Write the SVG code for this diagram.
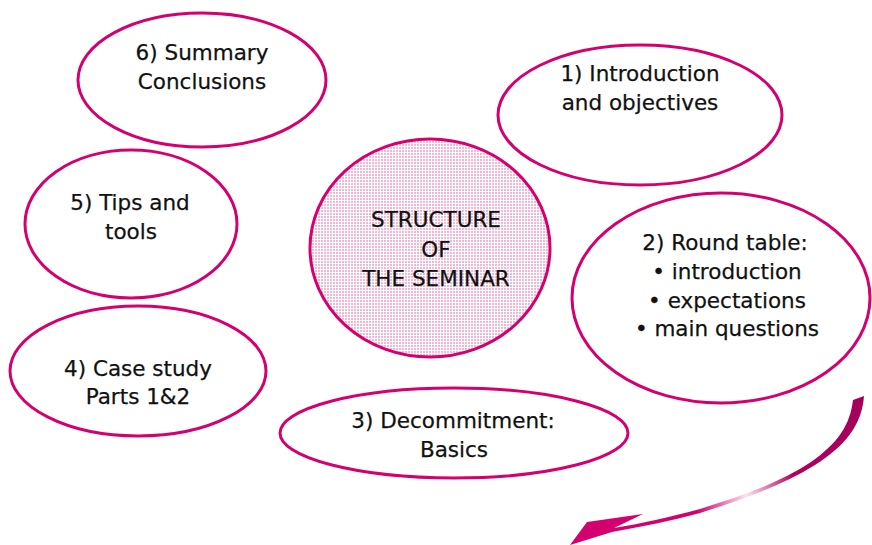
<svg xmlns="http://www.w3.org/2000/svg" width="872" height="545" viewBox="0 0 872 545">
<defs>
<style>
.node ellipse{fill:#fff;stroke:#d4006f;stroke-width:3}
.node text{font-family:"DejaVu Sans","Noto Sans",sans-serif;font-size:21.5px;fill:#111;stroke:#111;stroke-width:0.25;text-anchor:middle}
#center ellipse{fill:url(#dots)}
</style>
<pattern id="dots" width="3" height="3" patternUnits="userSpaceOnUse">
<rect width="3" height="3" fill="#fff"/>
<rect width="2" height="2" fill="#f5b5d5"/>
</pattern>
<linearGradient id="arrowGrad" gradientUnits="userSpaceOnUse" x1="862" y1="397" x2="575" y2="540">
<stop offset="0" stop-color="#a3005c"/>
<stop offset="0.3" stop-color="#b0005f"/>
<stop offset="0.46" stop-color="#fbe3ef"/>
<stop offset="0.62" stop-color="#d4006f"/>
<stop offset="1" stop-color="#d4006f"/>
</linearGradient>
</defs>
<rect width="872" height="545" fill="#fff"/>
<g id="connectors">
<path d="M853,400 L864,396 C862,425 845,446 815,465 C780,487 740,500 700,513 C670,521 640,527 612,532 L570,545 L587,522 L643,514 L614,528 C640,524 670,517 700,509 C738,497 778,484 811,462 C838,443 850,425 853,400 Z" fill="url(#arrowGrad)"/>
</g>
<g id="n6" class="node">
<ellipse cx="202" cy="80" rx="124" ry="67"/>
<text x="202" y="60">6) Summary</text>
<text x="202" y="89">Conclusions</text>
</g>
<g id="n1" class="node">
<ellipse cx="640" cy="115" rx="142" ry="70"/>
<text x="640" y="81">1) Introduction</text>
<text x="640" y="110">and objectives</text>
</g>
<g id="n5" class="node">
<ellipse cx="131" cy="224" rx="106" ry="74"/>
<text x="130" y="210">5) Tips and</text>
<text x="131" y="239">tools</text>
</g>
<g id="center" class="node">
<ellipse cx="430" cy="248" rx="120" ry="109"/>
<text x="436" y="227">STRUCTURE</text>
<text x="436" y="257">OF</text>
<text x="436" y="286">THE SEMINAR</text>
</g>
<g id="n2" class="node">
<ellipse cx="721" cy="298" rx="149" ry="105"/>
<text x="725" y="250">2) Round table:</text>
<text x="727" y="279">• introduction</text>
<text x="727" y="308">• expectations</text>
<text x="727" y="336">• main questions</text>
</g>
<g id="n4" class="node">
<ellipse cx="138" cy="371" rx="128" ry="65"/>
<text x="138" y="376">4) Case study</text>
<text x="138" y="404">Parts 1&amp;2</text>
</g>
<g id="n3" class="node">
<ellipse cx="454" cy="433" rx="174" ry="45"/>
<text x="453" y="428">3) Decommitment:</text>
<text x="454" y="457">Basics</text>
</g>
</svg>
